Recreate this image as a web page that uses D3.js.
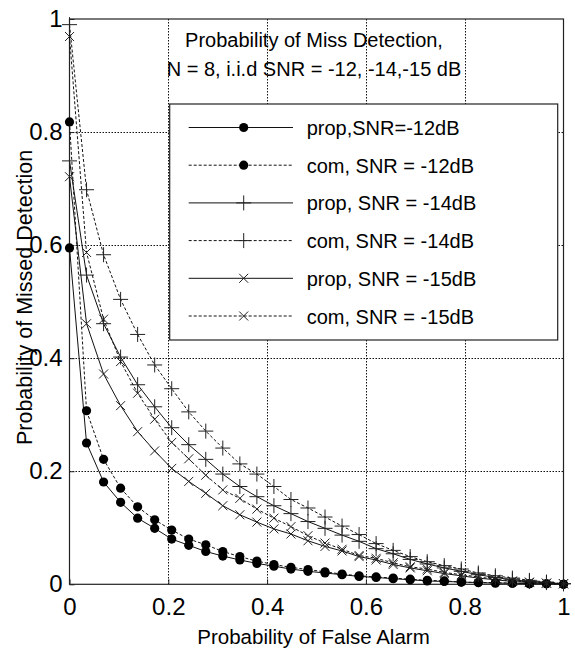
<!DOCTYPE html>
<html>
<head>
<meta charset="utf-8">
<script src="https://cdn.jsdelivr.net/npm/d3@7"></script>
<style>
  body { margin: 0; background: #fff; }
  svg { display: block; font-family: "Liberation Sans", Arial, sans-serif; }
</style>
</head>
<body>
<div id="chart"></div>
<script>
// false alarm probability, 30 samples from 0 to 1
const pf = d3.range(30).map((i) => i / 29);

const prop12 = [0.595, 0.25, 0.181, 0.145, 0.117, 0.099, 0.080, 0.069, 0.058, 0.050, 0.043, 0.037, 0.032, 0.027, 0.023, 0.020, 0.017, 0.014, 0.012, 0.010, 0.008, 0.006, 0.005, 0.004, 0.003, 0.002, 0.002, 0.001, 0.001, 0.0];
const com12 = [0.818, 0.307, 0.221, 0.170, 0.137, 0.114, 0.096, 0.080, 0.070, 0.058, 0.049, 0.041, 0.035, 0.030, 0.026, 0.022, 0.018, 0.015, 0.013, 0.011, 0.009, 0.007, 0.006, 0.004, 0.003, 0.003, 0.002, 0.001, 0.001, 0.0];
const prop14 = [0.749, 0.547, 0.461, 0.402, 0.353, 0.314, 0.277, 0.247, 0.221, 0.195, 0.173, 0.155, 0.139, 0.125, 0.111, 0.099, 0.087, 0.076, 0.063, 0.054, 0.044, 0.036, 0.029, 0.023, 0.017, 0.012, 0.008, 0.005, 0.003, 0.001];
const com14 = [0.99, 0.698, 0.583, 0.504, 0.442, 0.388, 0.346, 0.305, 0.271, 0.241, 0.213, 0.195, 0.173, 0.150, 0.135, 0.119, 0.103, 0.088, 0.072, 0.060, 0.049, 0.040, 0.033, 0.027, 0.020, 0.015, 0.011, 0.007, 0.004, 0.001];
const prop15 = [0.721, 0.461, 0.372, 0.316, 0.270, 0.236, 0.205, 0.182, 0.161, 0.139, 0.123, 0.110, 0.098, 0.089, 0.077, 0.067, 0.059, 0.049, 0.043, 0.035, 0.029, 0.024, 0.019, 0.015, 0.011, 0.008, 0.005, 0.003, 0.002, 0.001];
const com15 = [0.969, 0.587, 0.469, 0.394, 0.338, 0.292, 0.251, 0.222, 0.193, 0.167, 0.152, 0.133, 0.117, 0.102, 0.086, 0.073, 0.062, 0.051, 0.046, 0.038, 0.031, 0.027, 0.021, 0.017, 0.013, 0.009, 0.006, 0.004, 0.002, 0.001];

const seriesNames = ['prop,SNR=-12dB', 'com, SNR = -12dB', 'prop, SNR = -14dB', 'com, SNR = -14dB', 'prop, SNR = -15dB', 'com, SNR = -15dB'];
const seriesValues = [prop12, com12, prop14, com14, prop15, com15];
const seriesMarkers = ['dot', 'dot', 'plus', 'plus', 'cross', 'cross'];
const seriesDashed = [false, true, false, true, false, true];

const xTicks = [0, 0.2, 0.4, 0.6, 0.8, 1];
const yTicks = [0, 0.2, 0.4, 0.6, 0.8, 1];

const titleLines = ['Probability of Miss Detection,', 'N = 8, i.i.d SNR = -12, -14,-15 dB'];

let width = 575;
let height = 654;
let plotLeft = 69.5, plotRight = 563.5, plotTop = 19, plotBottom = 584.3;

let x = d3.scaleLinear().domain([0, 1]).range([plotLeft, plotRight]);
let y = d3.scaleLinear().domain([0, 1]).range([plotBottom, plotTop]);

let svg = d3.select('#chart').append('svg').attr('width', width).attr('height', height);

//grid
let grid = svg.append('g').attr('stroke', '#111').attr('stroke-width', 1).attr('stroke-dasharray', '1.5,1.5');
grid.selectAll('.gx').data(xTicks.slice(1, -1)).enter().append('line')
  .attr('x1', (d) => Math.round(x(d)) + 0.5).attr('x2', (d) => Math.round(x(d)) + 0.5)
  .attr('y1', plotTop).attr('y2', plotBottom);
grid.selectAll('.gy').data(yTicks.slice(1, -1)).enter().append('line')
  .attr('y1', (d) => Math.round(y(d)) + 0.5).attr('y2', (d) => Math.round(y(d)) + 0.5)
  .attr('x1', plotLeft).attr('x2', plotRight);

//axes
let xAxis = d3.axisBottom(x).tickValues(xTicks).tickSize(-5).tickPadding(14).tickFormat((d) => String(d));
let yAxis = d3.axisLeft(y).tickValues(yTicks).tickSize(-5).tickPadding(7).tickFormat((d) => String(d));

let gx = svg.append('g').attr('transform', 'translate(0,' + plotBottom + ')').call(xAxis);
let gy = svg.append('g').attr('transform', 'translate(' + plotLeft + ',0)').call(yAxis);
[gx, gy].forEach((g) => {
  g.select('.domain').remove();
  g.selectAll('line').attr('stroke', '#222');
  g.selectAll('text').attr('font-size', 24).attr('fill', '#000').attr('font-family', '"Liberation Sans", Arial, sans-serif');
});

//box
svg.append('rect').attr('x', plotLeft).attr('y', plotTop).attr('width', plotRight - plotLeft).attr('height', plotBottom - plotTop)
  .attr('fill', 'none').attr('stroke', '#222').attr('stroke-width', 1.2);

function markerPath(type) {
  if (type === 'plus') return 'M-7.5,0H7.5M0,-7.5V7.5';
  if (type === 'cross') return 'M-4.5,-4.5L4.5,4.5M-4.5,4.5L4.5,-4.5';
  return null;
}

function drawMarker(g, type, cx, cy) {
  if (type === 'dot') {
    g.append('circle').attr('cx', cx).attr('cy', cy).attr('r', 4.6).attr('fill', '#000');
  } else {
    g.append('path').attr('d', markerPath(type)).attr('transform', 'translate(' + cx + ',' + cy + ')')
      .attr('stroke', '#222').attr('stroke-width', 1).attr('fill', 'none');
  }
}

let line = d3.line().x((d, i) => x(pf[i])).y((d) => y(d));

//curves
seriesValues.forEach((vals, k) => {
  let g = svg.append('g');
  g.append('path').datum(vals).attr('d', line)
    .attr('fill', 'none').attr('stroke', '#111').attr('stroke-width', 1)
    .attr('stroke-dasharray', seriesDashed[k] ? '3,2' : null);
  vals.forEach((v, i) => drawMarker(g, seriesMarkers[k], x(pf[i]), y(v)));
});

//title
svg.append('g').selectAll('text').data(titleLines).enter().append('text')
  .attr('x', 314).attr('y', (d, i) => 46.5 + i * 29.5)
  .attr('text-anchor', 'middle').attr('font-size', 20).text((d) => d);

//legend
let legend = svg.append('g');
legend.append('rect').attr('x', 169.7).attr('y', 104).attr('width', 388).attr('height', 236)
  .attr('fill', '#fff').attr('stroke', '#222').attr('stroke-width', 1.2);
seriesNames.forEach((name, k) => {
  let ly = 127.5 + k * 37.7;
  legend.append('line').attr('x1', 188.7).attr('x2', 293).attr('y1', ly).attr('y2', ly)
    .attr('stroke', '#111').attr('stroke-width', 1).attr('stroke-dasharray', seriesDashed[k] ? '3,2' : null);
  drawMarker(legend, seriesMarkers[k], 243.7, ly);
  legend.append('text').attr('x', 306.7).attr('y', ly + 7.5).attr('font-size', 20).text(name);
});

//x axis label
svg.append('text').text('Probability of False Alarm')
  .attr('x', 313.5).attr('y', 644).attr('text-anchor', 'middle').attr('font-size', 20.5);

//y axis label
svg.append('text').text('Probability of Missed Detection')
  .attr('transform', 'translate(32,297.5) rotate(-90)').attr('text-anchor', 'middle').attr('font-size', 21.5);
</script>
</body>
</html>
